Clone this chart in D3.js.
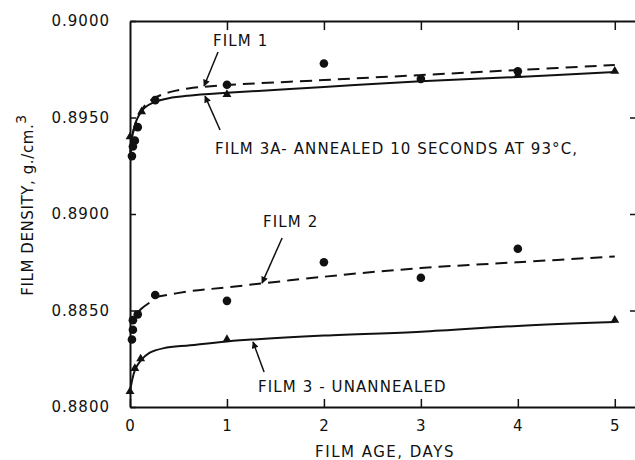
<!DOCTYPE html>
<html>
<head>
<meta charset="utf-8">
<script src="https://cdn.jsdelivr.net/npm/d3@7"></script>
<style>
  html, body { margin: 0; padding: 0; background: #fff; }
  svg { display: block; }
  text { font-family: "DejaVu Sans", sans-serif; fill: #111; }
</style>
</head>
<body>
<svg id="chart" width="635" height="460"></svg>
<script>
// Film density (g/cm^3) against film age (days)
const yTicks = [0.880, 0.885, 0.890, 0.895, 0.900];
const xTicks = [0, 1, 2, 3, 4, 5];

// Measured points: film 1 and film 2 are circles, film 3A and film 3 triangles
const film1Days   = [0.02, 0.03, 0.05, 0.08, 0.26, 1, 2, 3, 4];
const film1Dens   = [0.8930, 0.8935, 0.8938, 0.8945, 0.8959, 0.8967, 0.8978, 0.8970, 0.8974];
const film3aDays  = [0.00, 0.12, 1, 4, 5];
const film3aDens  = [0.8940, 0.8953, 0.8962, 0.8972, 0.8974];
const film2Days   = [0.02, 0.03, 0.03, 0.08, 0.26, 1, 2, 3, 4];
const film2Dens   = [0.8835, 0.8840, 0.8845, 0.8848, 0.8858, 0.8855, 0.8875, 0.8867, 0.8882];
const film3Days   = [0.00, 0.05, 0.11, 1, 5];
const film3Dens   = [0.8808, 0.8820, 0.8825, 0.8835, 0.8845];

// Fitted curves through each film's data
const film1CurveDays  = [0.005, 0.03, 0.08, 0.15, 0.25, 0.4, 0.6, 1, 2, 3, 4, 5];
const film1CurveDens  = [0.8932, 0.8942, 0.8950, 0.8956, 0.8960, 0.8963, 0.8965, 0.89668, 0.89694, 0.8972, 0.89746, 0.89772];
const film3aCurveDays = [0.005, 0.03, 0.08, 0.15, 0.25, 0.4, 0.6, 1, 2, 3, 4, 5];
const film3aCurveDens = [0.8932, 0.8942, 0.8950, 0.8955, 0.8958, 0.8960, 0.89613, 0.89628, 0.89658, 0.89688, 0.8971, 0.89736];
const film2StartDays  = [0.05, 0.12, 0.20];
const film2StartDens  = [0.8847, 0.8851, 0.8854];
const film2CurveDays  = [0.26, 0.62, 1, 2, 3, 4, 5];
const film2CurveDens  = [0.8857, 0.8860, 0.8862, 0.88675, 0.8872, 0.8875, 0.8878];
const film3CurveDays  = [0.00, 0.05, 0.11, 0.2, 0.35, 0.62, 1, 2, 3, 4, 5];
const film3CurveDens  = [0.8808, 0.8819, 0.8824, 0.8828, 0.88305, 0.8832, 0.8834, 0.8837, 0.8839, 0.8842, 0.8844];

// Curve labels with their pointer arrows (days, density)
const labelTexts  = ["FILM 1", "FILM 3A- ANNEALED 10 SECONDS AT 93°C,", "FILM 2", "FILM 3 - UNANNEALED"];
const labelDays   = [0.857, 0.877, 1.372, 1.321];
const labelDens   = [0.89870, 0.89311, 0.88933, 0.88078];
const arrowFromDays = [0.908, 0.929, 1.569, 1.383];
const arrowFromDens = [0.89839, 0.89435, 0.88876, 0.88181];
const arrowToDays   = [0.764, 0.774, 1.362, 1.269];
const arrowToDens   = [0.89663, 0.89611, 0.88642, 0.88337];

const svg = d3.select("#chart");
const plotLeft = 130, plotRight = 640, plotTop = 21, plotBottom = 407;

const x = d3.scaleLinear().domain([0, 5.26]).range([plotLeft, plotRight]);
const y = d3.scaleLinear().domain([0.880, 0.900]).range([plotBottom, plotTop]);

const ink = "#111";

// Frame with inward ticks
const axisStyle = g => {
  g.select(".domain").attr("stroke", ink).attr("stroke-width", 2);
  g.selectAll(".tick line").attr("stroke", ink).attr("stroke-width", 1.5);
  g.selectAll(".tick text").attr("font-size", 15).attr("fill", ink).attr("letter-spacing", 1)
    .attr("font-family", "DejaVu Sans");
};

svg.append("g").attr("transform", `translate(0,${plotBottom})`)
  .call(d3.axisBottom(x).tickValues(xTicks).tickFormat(d3.format("d")).tickSize(-8).tickSizeOuter(0).tickPadding(13))
  .call(axisStyle);

svg.append("g").attr("transform", `translate(0,${plotTop})`)
  .call(d3.axisTop(x).tickValues(xTicks.slice(1)).tickFormat("").tickSize(-9).tickSizeOuter(0))
  .call(axisStyle);

svg.append("g").attr("transform", `translate(${plotLeft},0)`)
  .call(d3.axisLeft(y).tickValues(yTicks).tickFormat(d3.format(".4f")).tickSize(-6).tickSizeOuter(0).tickPadding(20))
  .call(axisStyle);

svg.append("g").attr("transform", `translate(${plotRight},0)`)
  .call(d3.axisRight(y).tickValues(yTicks.slice(1, 4)).tickFormat("").tickSize(-10).tickSizeOuter(0))
  .call(axisStyle);

// Axis titles
svg.append("text")
  .attr("x", (plotLeft + plotRight) / 2).attr("y", 457)
  .attr("text-anchor", "middle").attr("font-size", 15).attr("letter-spacing", 1.5)
  .text("FILM AGE, DAYS");

const yTitle = svg.append("text")
  .attr("transform", "translate(33,205) rotate(-90)")
  .attr("text-anchor", "middle").attr("font-size", 15).attr("letter-spacing", 0.6);
yTitle.append("tspan").text("FILM DENSITY, g./cm.");
yTitle.append("tspan").attr("dy", -7).attr("font-size", 14).text("3");

// Curves
const line = d3.line().x(d => x(d[0])).y(d => y(d[1])).curve(d3.curveCatmullRom.alpha(0.5));
const zip = (a, b) => a.map((v, i) => [v, b[i]]);

const curves = [
  { pts: zip(film1CurveDays, film1CurveDens), dash: "12,7" },
  { pts: zip(film3aCurveDays, film3aCurveDens), dash: null },
  { pts: zip(film2StartDays, film2StartDens), dash: null },
  { pts: zip(film2CurveDays, film2CurveDens), dash: "12,7" },
  { pts: zip(film3CurveDays, film3CurveDens), dash: null }
];
svg.append("g").selectAll("path").data(curves).join("path")
  .attr("d", d => line(d.pts))
  .attr("fill", "none").attr("stroke", ink).attr("stroke-width", 2)
  .attr("stroke-dasharray", d => d.dash);

// Markers
const circles = zip(film1Days, film1Dens).concat(zip(film2Days, film2Dens));
const triangles = zip(film3aDays, film3aDens).concat(zip(film3Days, film3Dens));

svg.append("g").selectAll("circle").data(circles).join("circle")
  .attr("cx", d => x(d[0])).attr("cy", d => y(d[1])).attr("r", 4.3).attr("fill", ink);

const tri = d3.symbol().type(d3.symbolTriangle).size(34);
svg.append("g").selectAll("path").data(triangles).join("path")
  .attr("transform", d => `translate(${x(d[0])},${y(d[1])})`)
  .attr("d", tri).attr("fill", ink);

// Labels and pointer arrows
svg.append("defs").append("marker")
  .attr("id", "head").attr("viewBox", "0 0 10 10").attr("refX", 9).attr("refY", 5)
  .attr("markerWidth", 9).attr("markerHeight", 7).attr("markerUnits", "userSpaceOnUse")
  .attr("orient", "auto")
  .append("path").attr("d", "M0,0 L10,5 L0,10 Z").attr("fill", ink);

labelTexts.forEach((t, i) => {
  svg.append("text")
    .attr("x", x(labelDays[i])).attr("y", y(labelDens[i]))
    .attr("font-size", 15).attr("letter-spacing", 1.1)
    .text(t);
  svg.append("line")
    .attr("x1", x(arrowFromDays[i])).attr("y1", y(arrowFromDens[i]))
    .attr("x2", x(arrowToDays[i])).attr("y2", y(arrowToDens[i]))
    .attr("stroke", ink).attr("stroke-width", 1.5)
    .attr("marker-end", "url(#head)");
});
</script>
</body>
</html>
